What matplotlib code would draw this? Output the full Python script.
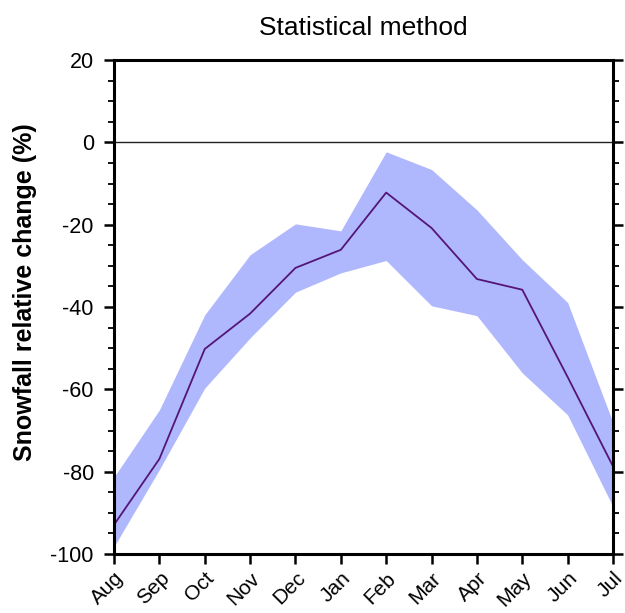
import matplotlib.pyplot as plt
from matplotlib.ticker import MultipleLocator

plt.rcParams['font.family'] = ['Liberation Sans', 'DejaVu Sans']
plt.rcParams['axes.unicode_minus'] = False

months = ['Aug', 'Sep', 'Oct', 'Nov', 'Dec', 'Jan', 'Feb', 'Mar', 'Apr', 'May', 'Jun', 'Jul']
# ensemble mean and spread (%)
mean_change = [-92.9, -76.9, -50.2, -41.6, -30.5, -26.1, -12.2, -20.8, -33.2, -35.8, -57.0, -78.7]
upper = [-81.3, -65.0, -41.9, -27.3, -19.8, -21.5, -2.3, -6.6, -16.4, -28.5, -38.9, -68.1]
lower = [-98.2, -79.5, -59.7, -47.5, -36.4, -31.7, -28.7, -39.7, -42.1, -56.0, -66.2, -88.5]

x = list(range(len(months)))

fig = plt.figure(figsize=(6.25, 6.13), dpi=100)
ax = fig.add_axes([0.1824, 0.0962, 0.7984, 0.8059])

ax.fill_between(x, lower, upper, color='#b0b8fd', linewidth=0)
ax.plot(x, mean_change, color='#541577', linewidth=1.3)
ax.axhline(0, color='#222222', linewidth=1.0)

ax.set_xlim(0, len(months) - 1)
ax.set_ylim(-100, 20)
ax.set_xticks(x)
ax.set_xticklabels(months, rotation=45, ha='right', rotation_mode='anchor')
ax.yaxis.set_major_locator(MultipleLocator(20))
ax.yaxis.set_minor_locator(MultipleLocator(5))

for s in ax.spines.values():
    s.set_linewidth(2.2)
ax.tick_params(axis='both', which='major', direction='out', length=7.5, width=1.8,
               labelsize=15.5, pad=7)
ax.tick_params(axis='y', which='both', right=True)
ax.tick_params(axis='y', which='minor', direction='out', length=4.5, width=1.3)
ax.tick_params(axis='x', which='major', pad=3, labelsize=15)

ax.set_ylabel('Snowfall relative change (%)', fontsize=18, fontweight='bold', labelpad=10)
ax.yaxis.label.set_y(0.53)
ax.set_title('Statistical method', fontsize=19, pad=18)

fig.savefig('out.png', dpi=100)
